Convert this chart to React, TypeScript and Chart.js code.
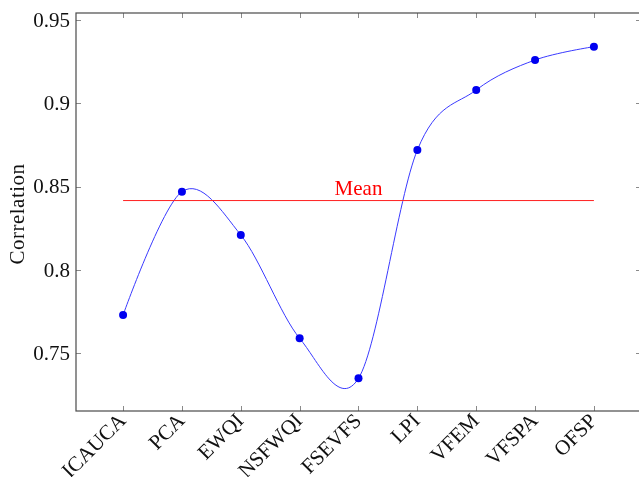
import React, { useEffect, useRef } from "react";
import { Chart, registerables } from "chart.js";

Chart.register(...registerables);

const categories = ["ICAUCA", "PCA", "EWQI", "NSFWQI", "FSEVFS", "LPI", "VFEM", "VFSPA", "OFSP"];
const correlation = [0.773, 0.847, 0.821, 0.759, 0.735, 0.872, 0.908, 0.926, 0.934];
const yTicks = [0.75, 0.8, 0.85, 0.9, 0.95];
const yTickLabels = ["0.75", "0.8", "0.85", "0.9", "0.95"];
const meanLabel = "Mean";
const yTitle = "Correlation";

const meanValue = correlation.reduce((a, b) => a + b, 0) / correlation.length;

const FONT = "21px 'Liberation Serif', 'DejaVu Serif', serif";
// handle length factor of the cardinal spline (TikZ "smooth", tension 0.55)
const SMOOTH = 0.165;

// Replace Chart.js bezier handles with a cardinal spline whose end handles sit on the end points
const smoothPlugin = {
  id: "cardinalSmooth",
  beforeDatasetsDraw(chart: any) {
    const meta = chart.getDatasetMeta(1);
    const line = meta.dataset;
    if (line && line.updateControlPoints) line.updateControlPoints(chart.chartArea, "x");
    const pts = meta.data;
    const n = pts.length;
    for (let i = 0; i < n; i++) {
      const p = pts[i];
      if (i === 0 || i === n - 1) {
        p.cp1x = p.x; p.cp1y = p.y;
        p.cp2x = p.x; p.cp2y = p.y;
        continue;
      }
      const prev = pts[i - 1];
      const next = pts[i + 1];
      const dx = (next.x - prev.x) * SMOOTH;
      const dy = (next.y - prev.y) * SMOOTH;
      p.cp1x = p.x - dx; p.cp1y = p.y - dy;
      p.cp2x = p.x + dx; p.cp2y = p.y + dy;
    }
  },
};

// Frame, inward ticks, tick labels, axis title and mean label, pgfplots style
const axesPlugin = {
  id: "pgfAxes",
  afterDatasetsDraw(chart: any) {
    const { ctx, chartArea, scales } = chart;
    const { left, right, top, bottom } = chartArea;
    const xs = scales.x;
    const ys = scales.y;
    ctx.save();

    // tick marks
    ctx.strokeStyle = "#8a8a8a";
    ctx.lineWidth = 1;
    const tl = 5;
    categories.forEach((_, i) => {
      const x = Math.round(xs.getPixelForValue(i)) + 0.5;
      ctx.beginPath();
      ctx.moveTo(x, bottom);
      ctx.lineTo(x, bottom - tl);
      ctx.moveTo(x, top);
      ctx.lineTo(x, top + tl);
      ctx.stroke();
    });
    yTicks.forEach((v) => {
      const y = Math.round(ys.getPixelForValue(v)) + 0.5;
      ctx.beginPath();
      ctx.moveTo(left, y);
      ctx.lineTo(left + tl, y);
      ctx.moveTo(right, y);
      ctx.lineTo(right - tl, y);
      ctx.stroke();
    });

    // frame
    ctx.strokeStyle = "#4a4a4a";
    ctx.lineWidth = 1.2;
    ctx.strokeRect(left, top, right - left, bottom - top);

    // y tick labels
    ctx.fillStyle = "#111";
    ctx.font = FONT;
    ctx.textAlign = "right";
    ctx.textBaseline = "middle";
    yTicks.forEach((v, i) => {
      ctx.fillText(yTickLabels[i], left - 6, ys.getPixelForValue(v) + 1);
    });

    // x tick labels, rotated 45 degrees
    ctx.textAlign = "right";
    ctx.textBaseline = "middle";
    categories.forEach((c, i) => {
      const x = xs.getPixelForValue(i);
      ctx.save();
      ctx.translate(x, bottom + 7);
      ctx.rotate(-Math.PI / 4);
      ctx.fillText(c, 0, 0);
      ctx.restore();
    });

    // y axis title
    ctx.save();
    ctx.font = FONT;
    ctx.letterSpacing = "0.5px";
    ctx.translate(18, (top + bottom) / 2 + 2);
    ctx.rotate(-Math.PI / 2);
    ctx.textAlign = "center";
    ctx.textBaseline = "middle";
    ctx.fillText(yTitle, 0, 0);
    ctx.restore();

    // mean label
    ctx.fillStyle = "#ff0000";
    ctx.font = FONT;
    ctx.textAlign = "center";
    ctx.textBaseline = "alphabetic";
    const mx = (xs.getPixelForValue(0) + xs.getPixelForValue(categories.length - 1)) / 2;
    ctx.fillText(meanLabel, mx, ys.getPixelForValue(meanValue) - 6);

    ctx.restore();
  },
};

export default function App() {
  const canvasRef = useRef<HTMLCanvasElement | null>(null);

  useEffect(() => {
    const canvas = canvasRef.current;
    if (!canvas) return;
    const chart = new Chart(canvas, {
      type: "line",
      data: {
        datasets: [
          {
            label: "Mean",
            data: [
              { x: 0, y: meanValue },
              { x: categories.length - 1, y: meanValue },
            ],
            borderColor: "#ff2020",
            borderWidth: 1,
            pointRadius: 0,
            tension: 0,
          },
          {
            label: yTitle,
            data: correlation.map((v, i) => ({ x: i, y: v })),
            borderColor: "#3a3aff",
            borderWidth: 1,
            pointRadius: 4,
            pointBackgroundColor: "#0000f0",
            pointBorderColor: "#0000f0",
            pointBorderWidth: 0,
            tension: 0.4,
          },
        ],
      },
      options: {
        animation: false,
        responsive: false,
        devicePixelRatio: 1,
        layout: { padding: { left: 76, top: 13, right: 4, bottom: 66 } },
        plugins: { legend: { display: false }, tooltip: { enabled: false } },
        scales: {
          x: { type: "linear", min: -0.8, max: categories.length - 1 + 0.8, display: false },
          y: { type: "linear", min: 0.7154, max: 0.9542, display: false },
        },
      },
      plugins: [smoothPlugin, axesPlugin],
    });
    return () => chart.destroy();
  }, []);

  return (
    <div
      style={{
        position: "fixed",
        left: 0,
        top: 0,
        width: 639,
        height: 477,
        overflow: "hidden",
        background: "#fff",
      }}
    >
      <canvas ref={canvasRef} width={645} height={477} style={{ display: "block" }} />
    </div>
  );
}
